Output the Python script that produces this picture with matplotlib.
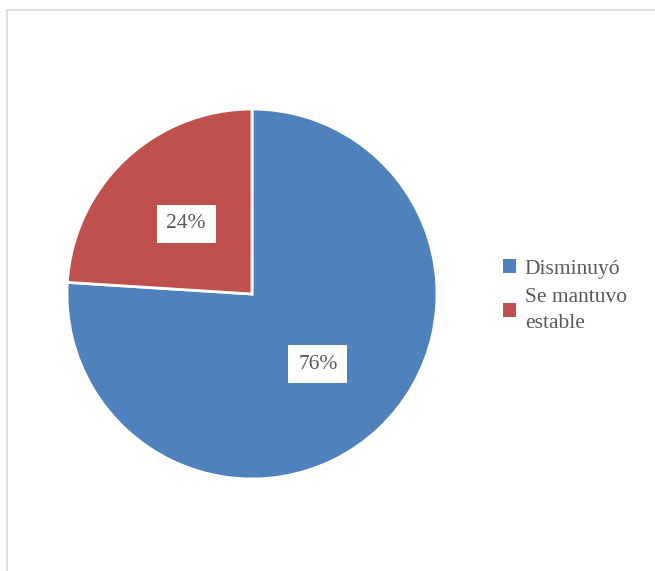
import matplotlib.pyplot as plt
from matplotlib.patches import Patch
from matplotlib.lines import Line2D

categories = ["Disminuyó", "Se mantuvo\nestable"]
values = [76, 24]
colors = ["#4F81BD", "#C0504D"]

plt.rcParams['font.family'] = ['Liberation Serif', 'DejaVu Serif']

fig = plt.figure(figsize=(6.55, 5.71), dpi=100)
fig.patch.set_facecolor('white')

# light frame lines (top and left)
fig.add_artist(Line2D([7/655, 7/655], [0, 1 - 10/571], color='#D9D9D9', lw=1.2, transform=fig.transFigure))
fig.add_artist(Line2D([7/655, 1], [1 - 10/571, 1 - 10/571], color='#D9D9D9', lw=1.2, transform=fig.transFigure))

ax = fig.add_axes([67/655, (571-479)/571, 370/655, 370/571])
wedges, texts, autotexts = ax.pie(
    values, colors=colors, startangle=90, counterclock=False,
    autopct='%d%%', pctdistance=0.52,
    wedgeprops=dict(edgecolor='white', linewidth=2),
    textprops=dict(fontsize=15.5, color='#595959'))
for t in autotexts:
    t.set_bbox(dict(facecolor='white', edgecolor='none', boxstyle='square,pad=0.45'))
ax.set_xlim(-1.0, 1.0)
ax.set_ylim(-1.0, 1.0)
ax.set_aspect('equal')

handles = [Patch(facecolor=c, edgecolor='none') for c in colors]
leg = fig.legend(handles, categories, loc='center left', bbox_to_anchor=(484/655, 1 - 296/571),
                 frameon=False, fontsize=15.5, handlelength=0.6, handleheight=0.6,
                 handletextpad=0.4, labelspacing=0.45, labelcolor='#595959')
for t in leg.get_texts():
    t.set_linespacing(1.45)

fig.savefig('out.png', dpi=100, facecolor='white')
